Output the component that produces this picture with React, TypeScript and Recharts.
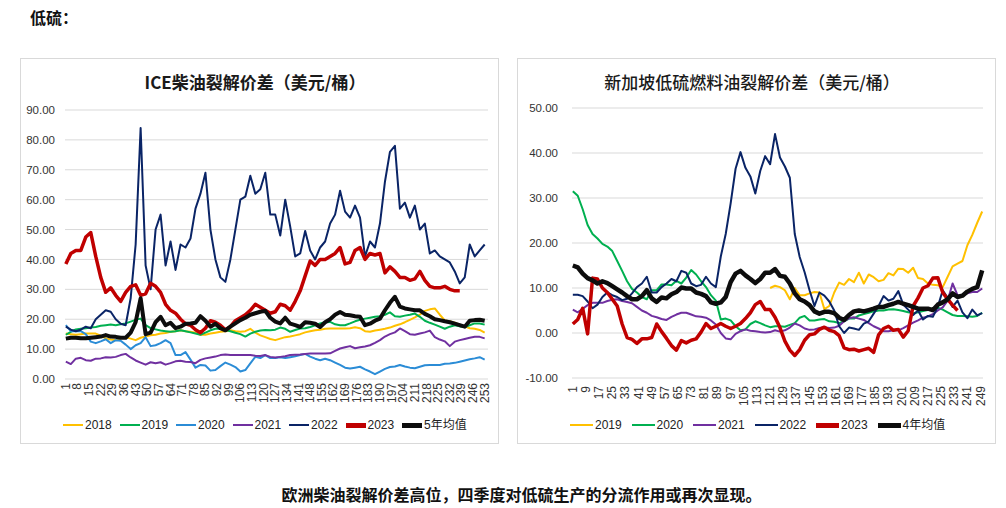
import React from "react";
import { LineChart, Line, XAxis, YAxis, CartesianGrid } from "recharts";

const FONT = '"Liberation Sans", Arial, "Noto Sans CJK SC", sans-serif';
const CJK = '"Noto Sans CJK SC", "Liberation Sans", sans-serif';

// ---- ICE 柴油裂解价差 (sampled every 3 trading days) ----
const ICE_X = [
  1, 4, 7, 10, 13, 16, 19, 22, 25, 28, 31, 34, 37, 40, 43, 46, 49, 52, 55, 58,
  61, 64, 67, 70, 73, 76, 79, 82, 85, 88, 91, 94, 97, 100, 103, 106, 109, 112, 115, 118,
  121, 124, 127, 130, 133, 136, 139, 142, 145, 148, 151, 154, 157, 160, 163, 166, 169, 172, 175, 178,
  181, 184, 187, 190, 193, 196, 199, 202, 205, 208, 211, 214, 217, 220, 223, 226, 229, 232, 235, 238,
  241, 244, 247, 250, 253,
];
const ICE_TICKS = [
  1, 8, 15, 22, 29, 36, 43, 50, 57, 64, 71, 78, 85, 92, 99, 106, 113, 120, 127,
  134, 141, 148, 155, 162, 169, 176, 183, 190, 197, 204, 211, 218, 225, 232, 239, 246, 253,
];
const ICE_Y_TICKS = [0, 10, 20, 30, 40, 50, 60, 70, 80, 90];

const ICE_2018 = [
  15.2, 15, 14.8, 15, 15.2, 15.2, 15.2, 14.5, 13.6, 13.2,
  13, 13.6, 14, 13.5, 13, 13.8, 14.2, 14.6, 14.8, 15.2,
  15.4, 15.8, 16, 16.3, 16, 15.8, 15.5, 14.8, 14.8, 15.2,
  15.5, 15.8, 16, 16.3, 16, 15.8, 16, 16.8, 15.5, 14.6,
  14, 13.4, 13, 13.5, 14, 14.2, 14.6, 15, 15.6, 16,
  16.3, 16.5, 16.8, 16.9, 16.9, 16.9, 16.9, 17, 17.3, 17,
  16, 15.8, 16.2, 16.5, 16.8, 17.2, 17.8, 18.3, 19, 19.8,
  20.6, 21.5, 22.8, 23.3, 23.6, 21.5, 19.6, 19.3, 18.8, 18.2,
  17.6, 17, 16.8, 16.4, 15.5,
];
const ICE_2019 = [
  14.8, 15.8, 16.6, 16.8, 17, 17.2, 17.4, 17.8, 18, 18.2,
  18, 18.3, 18.6, 19.2, 19.8, 20.2, 18, 17, 16.6, 16.2,
  16, 15.8, 16, 16.3, 16, 15.6, 15.2, 14.8, 15.5, 16.3,
  16.8, 16.8, 16.4, 16, 15.5, 15, 14.2, 15.2, 15.8, 16.2,
  16.4, 16.3, 16.5, 17.2, 16.8, 15.8, 16.4, 16.9, 17, 17.4,
  18, 18.6, 19, 19.1, 18.3, 18, 18, 18.6, 19.3, 19.8,
  20.2, 20.5, 20.8, 21, 21.5, 22.3, 21, 20.8, 21.2, 21.5,
  21.9, 20.8, 19.5, 18.8, 18.2, 17.5, 16.8, 17.5, 18, 17.6,
  17.4, 18, 18.6, 18.6, 18.2,
];
const ICE_2020 = [
  18, 16, 16, 16, 15, 12.5, 12, 12.6, 13.3, 12,
  13, 12.8, 11.5, 10, 11.3, 12, 14, 11, 11.3, 12,
  13, 12, 8, 8, 9, 6.5, 3.8, 4.7, 4.5, 2.8,
  3, 4.3, 5.5, 4.8, 4, 2.5, 3, 5.2, 7.4, 7,
  8, 7, 7, 7.3, 7, 7.3, 7.6, 8, 8.4, 7.5,
  6.8, 6.3, 6.8, 6.3, 5.5, 4.7, 3.8, 3.5, 3.8, 4.1,
  3.2, 2.5, 1.6, 2.5, 3.4, 4, 4.2, 4.7, 4.2, 3.8,
  3.6, 4.1, 4.6, 4.7, 4.7, 4.7, 5.1, 5.2, 5.4, 5.8,
  6.2, 6.6, 6.9, 7.3, 6.5,
];
const ICE_2021 = [
  5.8, 5, 6.8, 7.1, 6.3, 6.1, 6.8, 6.9, 7.3, 7.2,
  7.4, 8, 8.4, 7.2, 6.2, 5.5, 4.8, 5.6, 5.3, 5.6,
  4.8, 5.3, 5.9, 6.1, 5.8, 5.7, 5.3, 6.4, 6.9, 7.2,
  7.5, 8, 8.2, 8, 8, 8, 8, 8, 7.8, 7.7,
  8, 7.4, 7.2, 7.4, 7.6, 8, 8.1, 8.2, 8.4, 8.5,
  8.5, 8.5, 8.5, 8.6, 9.4, 10.2, 10.6, 11, 10.3, 10.6,
  10.9, 11.3, 12.1, 13, 14.2, 15, 15.6, 16.9, 16, 15,
  14.8, 15.2, 15.6, 16.2, 14, 13.2, 12.6, 11, 12.5, 13,
  13.4, 13.8, 14.1, 14.1, 13.6,
];
const ICE_2022 = [
  17.5, 16.5, 16, 16.5, 17.5, 17, 20, 21.5, 23, 22.5,
  20, 18.5, 18, 27, 45, 84, 38, 30, 50, 55,
  38, 46, 36.5, 45, 44, 47, 57, 62, 69, 50,
  40, 34, 32.5, 40, 50, 60, 61, 68, 62, 63.5,
  69, 55, 55, 48, 60, 51, 41, 42, 49.5, 43,
  40, 44, 46, 52, 55, 63, 56, 54, 58, 54,
  41, 46, 44, 52, 66, 76, 78, 57, 59, 54,
  58, 50, 52, 42, 43, 41, 40, 39, 36, 32,
  34, 45, 41, 43, 45,
];
const ICE_2023 = [
  38.5, 42, 43, 43, 47.5, 49, 41, 34, 29, 30.5,
  28, 26, 29, 31, 31.5, 28, 28.5, 32, 31, 29,
  25, 23, 22, 20, 18.5, 18, 16.5, 15.5, 17, 19.5,
  19, 18, 16.5, 17.5, 19.5, 20.5, 21.5, 23, 25, 24,
  23, 22, 22.5, 25, 24.5, 23, 26, 29.5, 34.5, 39.5,
  38, 40, 40, 41, 42, 44, 38.5, 39, 43, 44,
  40, 42, 41.5, 42, 35.5, 37.5, 36, 34, 34, 33,
  33.5, 36, 33, 31, 30.5, 30.5, 31, 30, 29.5, 29.5,
  null, null, null, null, null,
];
const ICE_AVG5 = [
  13.5, 13.8, 13.8, 13.6, 13.6, 13.8, 14, 14.2, 14.7, 14.2,
  14.1, 13.8, 13.8, 15.5, 19, 27, 15, 15.5, 19, 20.8,
  18, 18.8, 17, 17.5, 18.5, 18.6, 18.8, 21, 19.5, 17.5,
  18.5, 17, 16.3, 17.5, 18.6, 19.7, 20.5, 21.5, 22, 22.5,
  22.8, 20.5, 19.2, 18.6, 20.5, 18.5, 18, 17.4, 19, 18.8,
  18.5, 17.4, 19, 20, 21.5, 22.4, 21.5, 21.3, 21, 20.8,
  18, 18.5, 19.5, 20.2, 23, 25.5, 27.5, 24.2, 23.6, 23.3,
  23, 23, 21.8, 21, 20, 19.7, 19.3, 19, 18.5, 18,
  17.5, 19.5, 19.7, 19.8, 19.5,
];

// ---- 新加坡低硫燃料油裂解价差 ----
const SG_X = [
  1, 4, 7, 10, 13, 16, 19, 22, 25, 28, 31, 34, 37, 40, 43, 46, 49, 52, 55, 58,
  61, 64, 67, 70, 73, 76, 79, 82, 85, 88, 91, 94, 97, 100, 103, 106, 109, 112, 115, 118,
  121, 124, 127, 130, 133, 136, 139, 142, 145, 148, 151, 154, 157, 160, 163, 166, 169, 172, 175, 178,
  181, 184, 187, 190, 193, 196, 199, 202, 205, 208, 211, 214, 217, 220, 223, 226, 229, 232, 235, 238,
  241, 244, 247, 250,
];
const SG_TICKS = [
  1, 9, 17, 25, 33, 41, 49, 57, 65, 73, 81, 89, 97, 105, 113, 121,
  129, 137, 145, 153, 161, 169, 177, 185, 193, 201, 209, 217, 225, 233, 241, 249,
];
const SG_Y_TICKS = [-10, 0, 10, 20, 30, 40, 50];

const SG_2019 = [
  null, null, null, null, null, null, null, null, null, null,
  null, null, null, null, null, null, null, null, null, null,
  null, null, null, null, null, null, null, null, null, null,
  null, null, null, null, null, null, null, null, null, null,
  10, 10.5, 10.2, 9.5, 7.5, 10, 8.4, 8.4, 8.8, 9.1,
  9, 5.3, 6, 9, 11.2, 10.7, 12, 11.3, 13.4, 11,
  13, 12.4, 11.5, 11.8, 13.3, 12.8, 14.3, 14.2, 13.4, 14.5,
  12.2, 12, 11, 10.7, 10.6, 10.2, 12.5, 14.8, 15.4, 16,
  19.5, 21.8, 24.5, 27,
];
const SG_2020 = [
  31.5, 30.5, 27.5, 24, 22, 21, 19.8, 19.2, 18.2, 16,
  13.8, 11.5, 9.8, 9, 8, 7.5, 9.5, 9.5, 10.8, 10.8,
  10.6, 11.6, 11, 12.3, 14, 13, 11.5, 10.2, 8.4, 7.2,
  3, 3.2, 2.8, 1.5, 0.6, 0.8, 2, 2.6, 2.2, 1.7,
  1.3, 1.5, 1.5, 1.4, 1.8, 2.2, 3.4, 3.8, 2.8, 2.8,
  3, 3.1, 2.6, 2.5, 2.2, 2.6, 3.2, 3.2, 3.9, 4.2,
  4.5, 4.8, 5, 5, 5.2, 5.3, 5.1, 4.9, 4.6, 4.4,
  4.6, 4.9, 5.1, 5.5, 5.6, 5.2, 4.6, 4, 3.8, 3.8,
  3.7, 3.6, 3.8, 4.5,
];
const SG_2021 = [
  5.2, 4.6, 5.4, 6.2, 6.7, 6.7, 6.7, 7.1, 7.4, 7.5,
  7.1, 6.9, 6.6, 5.8, 5, 4.5, 3.8, 3.5, 3.1, 2.9,
  3.6, 4.1, 4.5, 4.5, 4.1, 3.7, 3.6, 3.4, 2.8, 1.9,
  0, -1.2, -1.4, -0.2, 0.4, 0.8, 0.5, 0.4, 0.2, 0.1,
  0.2, 0.6, 0.3, 0.6, 1.2, 2.1, 1.7, 1, 0.7, 0.8,
  1.1, 1.3, 1.1, 1.2, 1.6, 2.6, 3.3, 3.5, 3.2, 2.9,
  2.2, 1.5, 1, 0.4, 0.4, 0.6, 0.6, 1.1, 1.7, 2.3,
  2.8, 3.4, 3.7, 4.2, 5, 5.7, 7.2, 11, 8.4, 8.4,
  8.8, 9.1, 9.1, 9.9,
];
const SG_2022 = [
  8.5, 8.5, 8.2, 7, 5.5, 6.3, 8, 9, 8.4, 8,
  7.3, 7.6, 8.8, 10.2, 11, 12.5, 9, 9, 10.2, 11,
  12, 11.5, 13.8, 13.4, 11, 10.4, 10.7, 12.5, 11, 10.2,
  17, 22, 28.8, 36.5, 40.2, 36.7, 34.8, 31, 36, 39.3,
  37.5, 44.2, 39, 37, 34.5, 22, 16.9, 13.5, 9.5, 6,
  9, 8.3, 7, 5, 1.5, 0, 1.2, 1, 0.7, 2.1,
  2.6, 4.3, 6, 8.2, 7.2, 7.6, 9.3, 6.3, 5.2, 4,
  5, 3, 3.8, 3.6, 5.8, 9.5, 7.8, 5.8, 7.2, 4.6,
  3.3, 5.2, 3.9, 4.4,
];
const SG_2023 = [
  2, 3, 5.5, -0.2, 12.2, 12, 10, 9, 7.5, 6,
  2, -1, -1.4, -2.3, -1.3, -1.3, -1, 2, 0.3, -1.2,
  -2.8, -3.8, -1.7, -2.2, -1.6, -1.3, 0.2, 2.1, 1, 1.5,
  2.1, 1.5, 1, 1.5, 2.1, 3.2, 4.5, 6.3, 7, 5.2,
  5.2, 3.5, 1.2, -1.8, -3.8, -5, -3.7, -1.6, -0.4, -0.2,
  0.8, 1.3, 0.6, 0.3, -0.6, -3.3, -3.7, -3.6, -4, -3.7,
  -3.4, -4.3, -0.4, 1, 1.5, 0.6, 0.8, -0.9, 0.5, 6,
  7.8, 10, 10.5, 12.2, 12.3, 9, 7.5, 6.2, 5, null,
  null, null, null, null,
];
const SG_AVG4 = [
  15, 14.6, 13.2, 12.2, 11.7, 11, 11.5, 11.1, 10.4, 9.7,
  9, 8.2, 7.5, 7.5, 8.2, 9.5, 7.7, 6.9, 7.9, 7.7,
  8.6, 9.1, 10.1, 9.9, 9.9, 9, 8.7, 8.2, 6.8, 6.5,
  6.8, 8, 11.3, 13.2, 13.8, 12.8, 12, 11.1, 12, 13.4,
  13.4, 14.2, 12.7, 12.5, 11, 8.8, 7.5, 7, 6.2, 4.8,
  4.3, 4.7, 4.7, 4.4, 3.4, 2.9, 4, 4.8, 5, 4.8,
  5.1, 5.4, 5.8, 5.8, 6.2, 6.5, 6.9, 6.5, 6.2, 5.8,
  5.4, 5.4, 5.4, 5.1, 6.3, 6.8, 7.5, 8.8, 8, 8.3,
  9.2, 9.8, 10.2, 13.9,
];

const C = {
  y2018: "#FFC000",
  y2019: "#00B050",
  y2020: "#2B8CD6",
  y2021: "#7030A0",
  y2022: "#0A2466",
  y2023: "#C00000",
  avg: "#0D0D0D",
};

type Series = { key: string; name: string; color: string; width: number; values: (number | null)[] };

const ICE_SERIES: Series[] = [
  { key: "a", name: "2018", color: C.y2018, width: 2, values: ICE_2018 },
  { key: "b", name: "2019", color: C.y2019, width: 2, values: ICE_2019 },
  { key: "c", name: "2020", color: C.y2020, width: 2, values: ICE_2020 },
  { key: "d", name: "2021", color: C.y2021, width: 2, values: ICE_2021 },
  { key: "e", name: "2022", color: C.y2022, width: 2, values: ICE_2022 },
  { key: "f", name: "2023", color: C.y2023, width: 3.5, values: ICE_2023 },
  { key: "g", name: "5年均值", color: C.avg, width: 4, values: ICE_AVG5 },
];

const SG_SERIES: Series[] = [
  { key: "b", name: "2019", color: C.y2018, width: 2, values: SG_2019 },
  { key: "c", name: "2020", color: C.y2019, width: 2, values: SG_2020 },
  { key: "d", name: "2021", color: C.y2021, width: 2, values: SG_2021 },
  { key: "e", name: "2022", color: C.y2022, width: 2, values: SG_2022 },
  { key: "f", name: "2023", color: C.y2023, width: 3.5, values: SG_2023 },
  { key: "g", name: "4年均值", color: C.avg, width: 4.5, values: SG_AVG4 },
];

function buildRows(xs: number[], series: Series[]) {
  return xs.map((x, k) => {
    const row: Record<string, number | null> = { x };
    series.forEach((s) => (row[s.key] = s.values[k]));
    return row;
  });
}

function VTick(props: any) {
  const { x, y, payload } = props;
  return (
    <text
      x={x}
      y={y}
      transform={`rotate(-90 ${x} ${y})`}
      textAnchor="end"
      dominantBaseline="central"
      fontSize={12}
      fill="#333"
      fontFamily={FONT}
    >
      {payload.value}
    </text>
  );
}

interface PanelProps {
  left: number;
  title: string;
  titleWeight: number;
  rows: Record<string, number | null>[];
  series: Series[];
  margin: { top: number; right: number; bottom: number; left: number };
  yWidth: number;
  yTickMargin: number;
  xTickMargin: number;
  xDomain: [number, number];
  xTicks: number[];
  yDomain: [number, number];
  yTicks: number[];
  legendLeft: number;
  legendItem: number;
  legendLine: number;
}

function Panel(p: PanelProps) {
  return (
    <>
      <div
        style={{
          position: "absolute",
          left: p.left,
          top: 58,
          width: 479,
          height: 386,
          border: "1px solid #d9d9d9",
          boxSizing: "border-box",
        }}
      />
      <div
        style={{
          position: "absolute",
          left: p.left,
          top: 71,
          width: 470,
          textAlign: "center",
          fontFamily: CJK,
          fontSize: 17,
          lineHeight: "22px",
          fontWeight: p.titleWeight,
          color: "#1a1a1a",
        }}
      >
        {p.title}
      </div>
      <div style={{ position: "absolute", left: p.left, top: 58 }}>
        <LineChart width={479} height={386} data={p.rows} margin={p.margin}>
          <CartesianGrid vertical={false} stroke="#d9d9d9" strokeWidth={1} />
          <XAxis
            dataKey="x"
            type="number"
            domain={p.xDomain}
            ticks={p.xTicks}
            interval={0}
            axisLine={false}
            tickLine={false}
            tickSize={0}
            tickMargin={p.xTickMargin}
            height={30}
            tick={(t: any) => <VTick {...t} />}
          />
          <YAxis
            type="number"
            domain={p.yDomain}
            ticks={p.yTicks}
            interval={0}
            width={p.yWidth}
            axisLine={false}
            tickLine={false}
            tickSize={0}
            tickMargin={p.yTickMargin}
            tickFormatter={(v: number) => v.toFixed(2)}
            tick={{ fontSize: 11.5, fill: "#333", fontFamily: FONT }}
          />
          {p.series.map((s) => (
            <Line
              key={s.key}
              dataKey={s.key}
              name={s.name}
              type="linear"
              stroke={s.color}
              strokeWidth={s.width}
              strokeLinejoin="round"
              dot={false}
              activeDot={false}
              isAnimationActive={false}
            />
          ))}
        </LineChart>
      </div>
      <div
        style={{
          position: "absolute",
          left: p.legendLeft,
          top: 417,
          display: "flex",
          fontFamily: CJK,
          fontSize: 12,
          lineHeight: "16px",
          color: "#222",
          whiteSpace: "nowrap",
        }}
      >
        {p.series.map((s) => (
          <div
            key={s.key}
            style={{ width: p.legendItem, flex: "none", display: "flex", alignItems: "center", whiteSpace: "nowrap" }}
          >
            <span
              style={{
                display: "inline-block",
                flex: "none",
                width: p.legendLine,
                height: s.width > 3 ? 5 : 2.5,
                background: s.color,
                marginRight: 2,
              }}
            />
            <span style={{ fontFamily: s.name.length > 4 ? CJK : FONT }}>{s.name}</span>
          </div>
        ))}
      </div>
    </>
  );
}

export default function App() {
  return (
    <div
      style={{
        position: "absolute",
        left: 0,
        top: 0,
        width: 1006,
        height: 508,
        background: "#fff",
        overflow: "hidden",
      }}
    >
      <div
        style={{
          position: "absolute",
          left: 30,
          top: 6,
          fontFamily: CJK,
          fontWeight: 700,
          fontSize: 16,
          lineHeight: "22px",
          color: "#111",
        }}
      >
        低硫：
      </div>

      <Panel
        left={20}
        title="ICE柴油裂解价差（美元/桶）"
        titleWeight={700}
        rows={buildRows(ICE_X, ICE_SERIES)}
        series={ICE_SERIES}
        margin={{ top: 52, right: 11, bottom: 35, left: 0 }}
        yWidth={45}
        yTickMargin={10}
        xTickMargin={4}
        xDomain={[0.5, 255]}
        xTicks={ICE_TICKS}
        yDomain={[0, 90]}
        yTicks={ICE_Y_TICKS}
        legendLeft={63}
        legendItem={56.5}
        legendLine={20}
      />

      <Panel
        left={517}
        title="新加坡低硫燃料油裂解价差（美元/桶）"
        titleWeight={500}
        rows={buildRows(SG_X, SG_SERIES)}
        series={SG_SERIES}
        margin={{ top: 50, right: 13, bottom: 36, left: 0 }}
        yWidth={55}
        yTickMargin={14}
        xTickMargin={8}
        xDomain={[0.5, 250.5]}
        xTicks={SG_TICKS}
        yDomain={[-10, 50]}
        yTicks={SG_Y_TICKS}
        legendLeft={570}
        legendItem={61.5}
        legendLine={23}
      />

      <div
        style={{
          position: "absolute",
          left: 0,
          width: 1043,
          top: 484,
          textAlign: "center",
          fontFamily: CJK,
          fontWeight: 700,
          fontSize: 16,
          lineHeight: "20px",
          color: "#111",
        }}
      >
        欧洲柴油裂解价差高位，四季度对低硫生产的分流作用或再次显现。
      </div>
    </div>
  );
}
